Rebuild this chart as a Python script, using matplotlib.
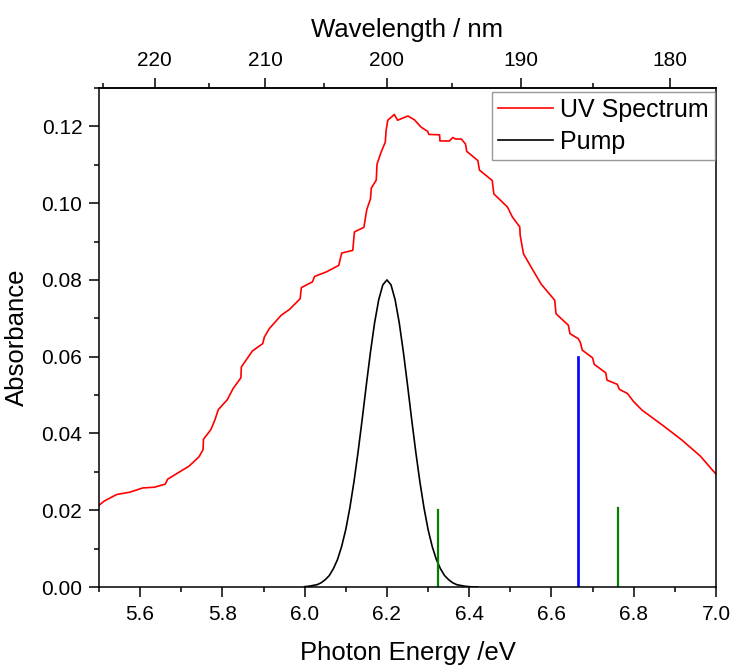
import matplotlib
matplotlib.use('Agg')
import matplotlib.pyplot as plt
from matplotlib.ticker import MultipleLocator
import numpy as np

# UV spectrum (photon energy in eV, absorbance)
uv_energy = [5.500, 5.513, 5.543, 5.575, 5.606, 5.635, 5.661, 5.667, 5.719, 5.743,
             5.753, 5.754, 5.772, 5.782, 5.790, 5.812, 5.826, 5.845, 5.846, 5.873,
             5.898, 5.902, 5.914, 5.943, 5.963, 5.989, 5.992, 6.019, 6.024, 6.053,
             6.083, 6.090, 6.117, 6.121, 6.144, 6.151, 6.160, 6.162, 6.174, 6.176,
             6.186, 6.196, 6.198, 6.202, 6.218, 6.226, 6.251, 6.267, 6.283, 6.299,
             6.302, 6.328, 6.329, 6.352, 6.360, 6.367, 6.381, 6.391, 6.394, 6.421,
             6.425, 6.456, 6.460, 6.493, 6.505, 6.523, 6.524, 6.532, 6.553, 6.575,
             6.608, 6.611, 6.641, 6.645, 6.665, 6.670, 6.675, 6.700, 6.704, 6.732,
             6.735, 6.760, 6.765, 6.785, 6.799, 6.820, 6.872, 6.917, 6.962, 7.000]
uv_abs = [0.0213, 0.0224, 0.0241, 0.0247, 0.0258, 0.0260, 0.0268, 0.0281, 0.0315, 0.0339,
          0.0358, 0.0385, 0.0410, 0.0436, 0.0462, 0.0488, 0.0517, 0.0545, 0.0573, 0.0615,
          0.0634, 0.0651, 0.0673, 0.0708, 0.0723, 0.0751, 0.0780, 0.0795, 0.0809, 0.0821,
          0.0838, 0.0870, 0.0877, 0.0925, 0.0937, 0.0983, 0.1011, 0.1039, 0.1060, 0.1102,
          0.1133, 0.1159, 0.1189, 0.1216, 0.1231, 0.1216, 0.1227, 0.1217, 0.1198, 0.1187,
          0.1179, 0.1178, 0.1162, 0.1162, 0.1171, 0.1167, 0.1167, 0.1154, 0.1135, 0.1111,
          0.1086, 0.1059, 0.1024, 0.0990, 0.0964, 0.0938, 0.0916, 0.0868, 0.0829, 0.0789,
          0.0747, 0.0712, 0.0682, 0.0660, 0.0647, 0.0638, 0.0617, 0.0597, 0.0580, 0.0558,
          0.0539, 0.0528, 0.0515, 0.0504, 0.0484, 0.0461, 0.0420, 0.0383, 0.0341, 0.0294]

# pump pulse profile
pump_energy = [6.00, 6.01, 6.02, 6.03, 6.04, 6.05, 6.06, 6.07, 6.08, 6.09, 6.10,
               6.11, 6.12, 6.13, 6.14, 6.15, 6.16, 6.17, 6.18, 6.19, 6.20,
               6.21, 6.22, 6.23, 6.24, 6.25, 6.26, 6.27, 6.28, 6.29, 6.30,
               6.31, 6.32, 6.33, 6.34, 6.35, 6.36, 6.37, 6.38, 6.39, 6.40, 6.41, 6.42]
pump_abs = [0.0001, 0.0002, 0.0004, 0.0006, 0.0011, 0.0019, 0.0030, 0.0048, 0.0072, 0.0106, 0.0150,
            0.0207, 0.0275, 0.0353, 0.0438, 0.0527, 0.0612, 0.0688, 0.0748, 0.0787, 0.0800,
            0.0787, 0.0748, 0.0688, 0.0612, 0.0527, 0.0438, 0.0353, 0.0275, 0.0207, 0.0150,
            0.0106, 0.0072, 0.0048, 0.0030, 0.0019, 0.0011, 0.0006, 0.0004, 0.0002, 0.0001, 0.0, 0.0]

# transition sticks
stick_energy = [6.323, 6.665, 6.763]
stick_height = [0.0200, 0.0600, 0.0205]
stick_color = ['green', 'blue', 'green']
stick_width = [1.6, 1.9, 1.6]

# wavelength ticks on the top axis
nm_major = [220, 210, 200, 190, 180]
nm_minor = [225, 215, 205, 195, 185]

plt.rcParams['font.family'] = ['Liberation Sans', 'DejaVu Sans']

fig = plt.figure(figsize=(7.36, 6.66), dpi=100)
ax = fig.add_axes([0.1345, 0.1186, 0.8383, 0.7493])

ax.plot(uv_energy, uv_abs, color='red', lw=1.2, label='UV Spectrum')
ax.plot(pump_energy, pump_abs, color='black', lw=1.2, label='Pump')
for e, h, c, w in zip(stick_energy, stick_height, stick_color, stick_width):
    ax.plot([e, e], [0, h], color=c, lw=w)

ax.set_xlim(5.5, 7.0)
ax.set_ylim(0, 0.13)
ax.xaxis.set_major_locator(MultipleLocator(0.2))
ax.xaxis.set_minor_locator(MultipleLocator(0.1))
ax.yaxis.set_major_locator(MultipleLocator(0.02))
ax.yaxis.set_minor_locator(MultipleLocator(0.01))
ax.xaxis.set_major_formatter(plt.FormatStrFormatter('%.1f'))
ax.yaxis.set_major_formatter(plt.FormatStrFormatter('%.2f'))

ax.tick_params(which='both', direction='out', top=False, right=False, width=1.1)
ax.tick_params(which='major', length=7)
ax.tick_params(which='minor', length=3.5)
ax.tick_params(axis='y', labelsize=15, pad=5)
ax.tick_params(axis='x', labelsize=15, pad=6)
for sp in ax.spines.values():
    sp.set_linewidth(1.1)

ax.set_ylabel('Absorbance', fontsize=18.5, labelpad=9)
ax.set_xlabel('Photon Energy /eV', fontsize=18.5, labelpad=12)


def ev_to_nm(x):
    x = np.asarray(x, dtype=float)
    with np.errstate(divide='ignore', invalid='ignore'):
        return 1239.84 / x


top = ax.secondary_xaxis('top', functions=(ev_to_nm, ev_to_nm))
top.set_xticks(nm_major)
top.set_xticks(nm_minor, minor=True)
top.tick_params(which='both', direction='out', width=1.1)
top.tick_params(which='major', length=7, pad=6, labelsize=15)
top.tick_params(which='minor', length=3.5)
top.spines['top'].set_linewidth(1.1)
top.set_xlabel('Wavelength / nm', fontsize=18.5, labelpad=10)

leg = ax.legend(loc='upper right', bbox_to_anchor=(0.999, 0.992), borderaxespad=0,
                fontsize=18, frameon=True, fancybox=False, handlelength=2.2,
                handletextpad=0.3, labelspacing=0.3, borderpad=0.25)
leg.get_frame().set_edgecolor('#808080')
leg.get_frame().set_linewidth(1.0)

fig.savefig('out.png', dpi=100)
